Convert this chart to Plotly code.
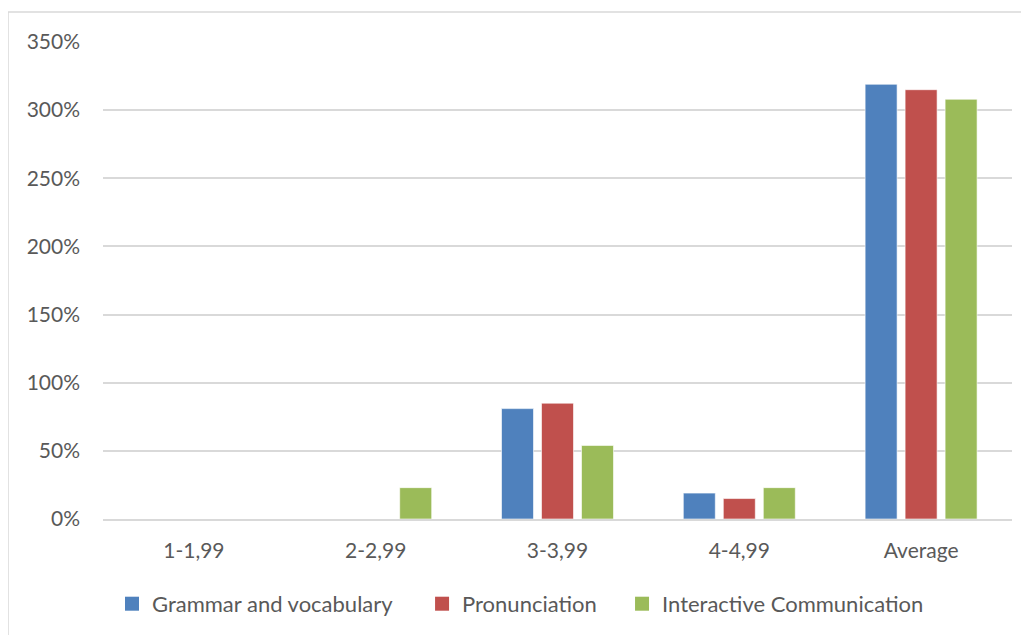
import plotly.graph_objects as go

categories = ["1-1,99", "2-2,99", "3-3,99", "4-4,99", "Average"]
grammar = [0, 0, 81, 19, 319]
pronunciation = [0, 0, 85, 15, 315]
interactive = [0, 23, 54, 23, 308]
y_ticks = [0, 50, 100, 150, 200, 250, 300, 350]

series = [
    ("Grammar and vocabulary", grammar, "#4f81bd", "legend", 0.0099),
    ("Pronunciation", pronunciation, "#c0504d", "legend2", 0.351),
    ("Interactive Communication", interactive, "#9bbb59", "legend3", 0.571),
]

FONT = "Lato, 'Open Sans', sans-serif"
fig = go.Figure()
legends = {}
for name, vals, col, lg, lx in series:
    fig.add_trace(go.Bar(
        x=categories, y=vals, name=name, showlegend=False,
        marker=dict(color=col, line=dict(color="rgba(255,255,255,0.6)", width=1)),
    ))
    fig.add_trace(go.Scatter(
        x=[None], y=[None], name=name, mode="markers", legend=lg,
        marker=dict(symbol="square", size=14, color=col),
    ))
    legends[lg] = dict(orientation="h", x=lx, xanchor="left", y=-0.178, yanchor="middle",
                       font=dict(size=22, color="#595959", family=FONT),
                       bgcolor="rgba(0,0,0,0)")

fig.update_layout(
    width=1029, height=635,
    margin=dict(l=95, r=25, t=34, b=124),
    paper_bgcolor="white", plot_bgcolor="white",
    barmode="group", bargap=0.34, bargroupgap=0.2,
    font=dict(family=FONT, color="#595959", size=21),
    showlegend=True,
    xaxis=dict(showgrid=False, showline=True, linecolor="#d9d9d9", linewidth=1.5,
               ticks="", tickfont=dict(size=21, color="#595959"), ticklabelstandoff=12),
    yaxis=dict(range=[0, 350], tickvals=y_ticks, ticktext=[f"{v}%" for v in y_ticks],
               showgrid=True, gridcolor="#d9d9d9", gridwidth=1.5, zeroline=False,
               showline=False, ticks="", tickfont=dict(size=21, color="#595959"),
               ticklabelstandoff=22),
    shapes=[dict(type="rect", xref="paper", yref="paper",
                 x0=-0.1045, x1=1.2, y0=-0.5, y1=1.0629,
                 line=dict(color="#d9d9d9", width=1.5), fillcolor="rgba(0,0,0,0)", layer="below")],
    **legends,
)

fig.write_html("out.html")
